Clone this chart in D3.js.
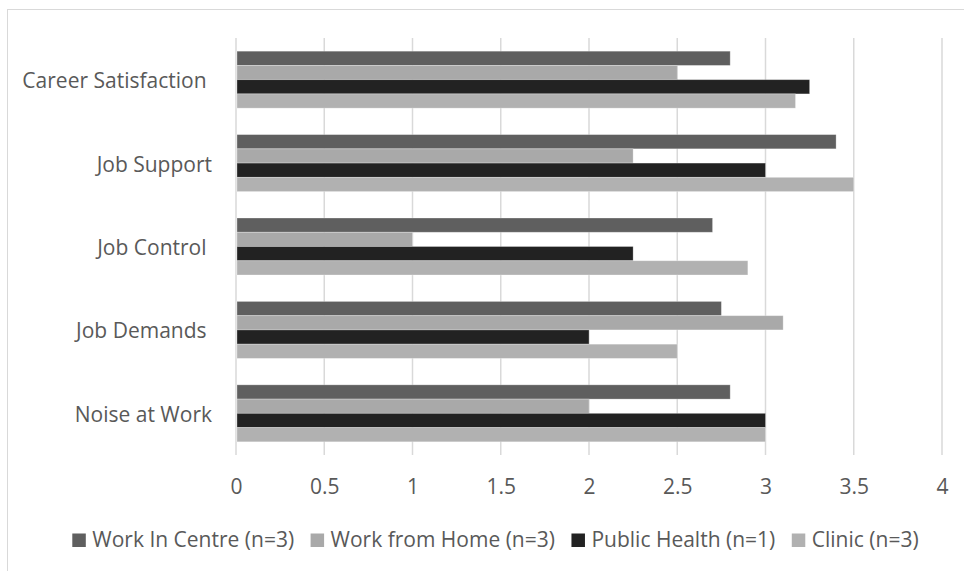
<!DOCTYPE html>
<html><head><meta charset="utf-8">
<script src="https://cdn.jsdelivr.net/npm/d3@7"></script>
<style>body{margin:0;background:#fff}svg{display:block}text{font-family:"Open Sans",Lato,sans-serif;fill:#595959}</style>
</head><body><svg id="c" width="964" height="571"></svg>
<script>
const categories = ["Career Satisfaction\u00a0", "Job Support", "Job Control\u00a0", "Job Demands\u00a0", "Noise at Work"];
const seriesNames = ["Work In Centre (n=3)", "Work from Home (n=3)", "Public Health (n=1)", "Clinic (n=3)"];
const workInCentre = [2.8, 3.4, 2.7, 2.75, 2.8];
const workFromHome = [2.5, 2.25, 1.0, 3.1, 2.0];
const publicHealth = [3.25, 3.0, 2.25, 2.0, 3.0];
const clinic = [3.17, 3.5, 2.9, 2.5, 3.0];
const xTicks = [0, 0.5, 1, 1.5, 2, 2.5, 3, 3.5, 4];
const colors = ["#5f5f5f", "#a9a9a9", "#222222", "#b1b1b1"];

const series = [workInCentre, workFromHome, publicHealth, clinic];
const svg = d3.select("#c");
svg.append("rect").attr("x", 7.5).attr("y", 9.5).attr("width", 1000).attr("height", 600)
  .attr("fill", "#fff").attr("stroke", "#d9d9d9");

const pLeft = 236, pRight = 942, pTop = 38, pBottom = 455;
const x = d3.scaleLinear().domain([0, 4]).range([pLeft, pRight]);
const y = d3.scaleBand().domain(categories).range([pTop, pBottom]).paddingInner(0.317).paddingOuter(0.158);
const y1 = d3.scaleBand().domain(d3.range(4)).range([0, y.bandwidth()]);

svg.append("g").selectAll("line").data(xTicks).join("line")
  .attr("x1", d => x(d)).attr("x2", d => x(d)).attr("y1", pTop).attr("y2", pBottom)
  .attr("stroke", "#d9d9d9").attr("stroke-width", 1.5);

const g = svg.append("g");
series.forEach((vals, si) => {
  g.append("g").selectAll("rect").data(vals).join("rect")
    .attr("x", x(0) + 1)
    .attr("y", (d, i) => y(categories[i]) + y1(si))
    .attr("width", d => x(d) - x(0) - 1)
    .attr("height", y1.bandwidth())
    .attr("fill", colors[si])
    .attr("stroke", "#ffffff").attr("stroke-opacity", 0.35).attr("stroke-width", 0.8);
});

svg.append("g").selectAll("text").data(categories).join("text")
  .attr("x", 212).attr("y", d => y(d) + y.bandwidth() / 2 + 8.5)
  .attr("text-anchor", "end")
  .style("white-space", "pre").attr("font-size", 21).text(d => d);

const xAxis = d3.axisBottom(x).tickValues(xTicks).tickSize(0).tickPadding(0).tickFormat(d3.format("~g"));
const ax = svg.append("g").attr("transform", `translate(0,${pBottom})`).call(xAxis);
ax.select(".domain").remove();
ax.selectAll("text").attr("y", 39).attr("dy", null).attr("font-size", 21).attr("font-family", null).attr("fill", "#595959");
ax.attr("font-family", null).attr("font-size", null);

const lg = svg.append("g");
let lx = 72.3;
seriesNames.forEach((n, i) => {
  lg.append("rect").attr("x", lx).attr("y", 533.5).attr("width", 13.5).attr("height", 13.5).attr("fill", colors[i]);
  const t = lg.append("text").attr("x", lx + 20).attr("y", 547).attr("font-size", 21).text(n);
  lx += 20 + t.node().getComputedTextLength() + 16.5;
});
</script></body></html>
